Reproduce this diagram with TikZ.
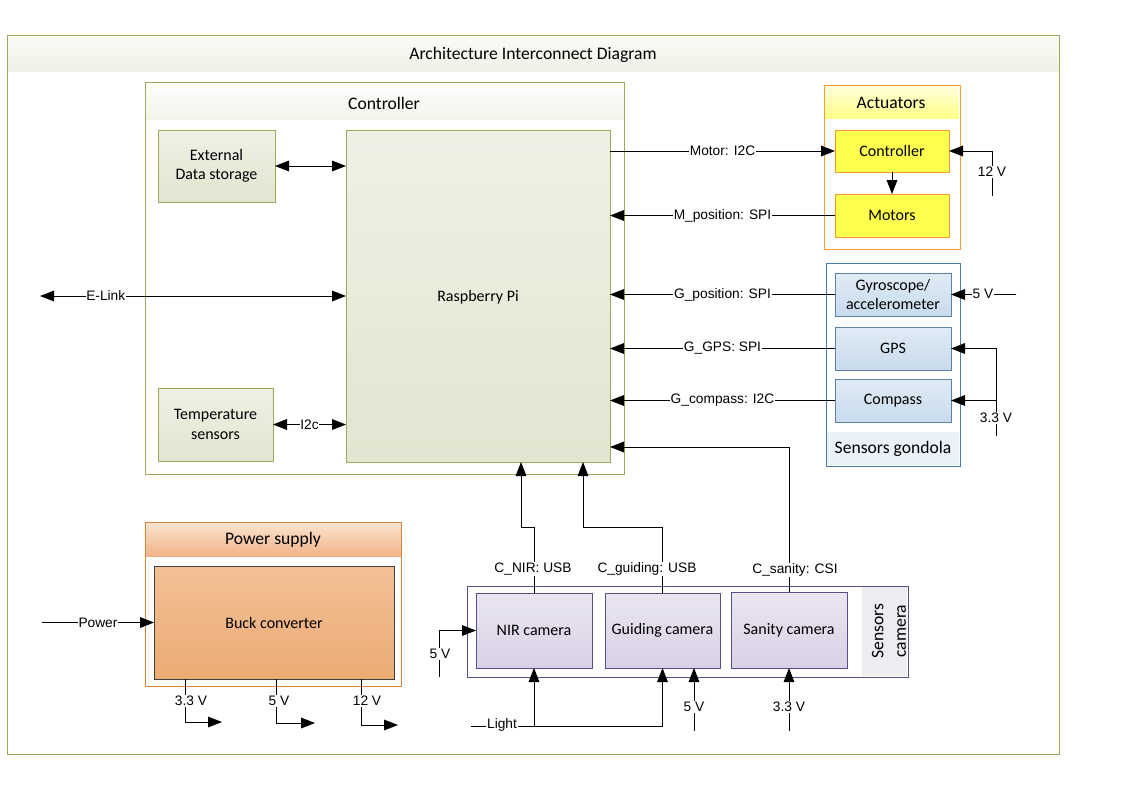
\documentclass[tikz,border=0pt]{standalone}
\usepackage{fontspec}
\setmainfont{Carlito}
\newfontfamily\labfont{Liberation Sans}
\usetikzlibrary{arrows.meta,fit}
\definecolor{cGreen}{HTML}{9AAB5A}
\definecolor{cGreenTop}{HTML}{EEF1E5}
\definecolor{cGreenBot}{HTML}{E0E6D0}
\definecolor{cHeadTop}{HTML}{FAFBF7}
\definecolor{cHeadBot}{HTML}{EEF1E6}
\definecolor{cOrange}{HTML}{FF9933}
\definecolor{cYelTop}{HTML}{FFFFC8}
\definecolor{cYelBot}{HTML}{FFFF88}
\definecolor{cYel}{HTML}{FFFF4D}
\definecolor{cBlue}{HTML}{4A7AAF}
\definecolor{cBlueBox}{HTML}{5C80A8}
\definecolor{cBlueTop}{HTML}{E0EBF5}
\definecolor{cBlueBot}{HTML}{C8DBEC}
\definecolor{cBlueBand}{HTML}{EAF2F9}
\definecolor{cPurple}{HTML}{5B4D8A}
\definecolor{cPurpTop}{HTML}{EAE6F1}
\definecolor{cPurpBot}{HTML}{D8D0E5}
\definecolor{cPurpBand}{HTML}{EEEBF3}
\definecolor{cPS}{HTML}{D9823B}
\definecolor{cPSTop}{HTML}{FBE4D1}
\definecolor{cPSBot}{HTML}{F2B487}
\definecolor{cBuckTop}{HTML}{F2C096}
\definecolor{cBuckBot}{HTML}{ECAB74}
\begin{document}
\begin{tikzpicture}[x=0.75pt,y=-0.75pt,
  every node/.style={text=black},
  ttl/.style={font=\fontsize{13.2}{15}\selectfont, inner sep=0pt},
  txt/.style={font=\fontsize{12}{14.4}\selectfont, align=center, inner sep=0pt},
  boxfit/.style={inner sep=0pt, outer sep=0pt, line width=0.75pt},
  gbox/.style={boxfit, draw=cGreen, top color=cGreenTop, bottom color=cGreenBot},
  ybox/.style={boxfit, draw=cOrange, fill=cYel},
  bbox/.style={boxfit, draw=cBlueBox, top color=cBlueTop, bottom color=cBlueBot},
  pbox/.style={boxfit, draw=cPurple, top color=cPurpTop, bottom color=cPurpBot},
  frame/.style={inner sep=0pt, outer sep=0pt, line width=0.75pt},
  lbl/.style={font=\labfont\fontsize{10.3}{11.5}\selectfont, fill=white, inner sep=0.6pt},
  wire/.style={line width=0.75pt, draw=black},
  arr/.style={wire, -{Triangle[length=10.5pt,width=8pt]}},
  dbl/.style={wire, {Triangle[length=10.5pt,width=8pt]}-{Triangle[length=10.5pt,width=8pt]}}
]
\useasboundingbox (0,0) rectangle (1123,794);
\fill[white] (0,0) rectangle (1123,794);

% outer frame
\fill[top color=cHeadTop, bottom color=cHeadBot] (7,35) rectangle (1059,71);
\node[frame, draw=cGreen, fit={(7,35)(1059,754)}] (outer) {};
\node[ttl] (outertitle) at (533,55) {Architecture Interconnect Diagram};

% controller container
\fill[top color=white, bottom color=cHeadBot!80!white] (145,82) rectangle (624,119);
\node[frame, draw=cGreen, fit={(145,82)(624,474)}] (ctrl) {};
\node[ttl] (ctrltitle) at (384,103) {Controller};

\node[gbox, fit={(158,130)(275,202)}] (ext) {};
\node[txt] (exttext) at (ext.center) {External\\Data storage};
\node[gbox, fit={(346,130)(610,462)}] (rpi) {};
\node[txt] (rpitext) at (478,297) {Raspberry Pi};
\node[gbox, fit={(158,388)(273,461)}] (temp) {};
\node[txt] (temptext) at (temp.center) {Temperature\\sensors};

% actuators
\fill[top color=cYelTop!60!white, bottom color=cYelBot] (824,85) rectangle (958.5,118);
\node[frame, draw=cOrange, fit={(824,85)(960,249)}] (act) {};
\node[ttl] (acttitle) at (891,103) {Actuators};
\node[ybox, fit={(835,130)(949,172)}] (actc) {};
\node[txt] (actctext) at (actc.center) {Controller};
\node[ybox, fit={(835,194)(949,237)}] (mot) {};
\node[txt] (mottext) at (mot.center) {Motors};

% sensors gondola
\fill[cBlueBand] (827,432) rectangle (959,465);
\node[frame, draw=cBlue, fit={(826,263)(960,466)}] (gond) {};
\node[ttl] (gondtitle) at (893,449) {Sensors gondola};
\node[bbox, fit={(835,273)(951,316)}] (gyro) {};
\node[txt] (gyrotext) at (gyro.center) {Gyroscope/\\accelerometer};
\node[bbox, fit={(835,327)(951,370)}] (gps) {};
\node[txt] (gpstext) at (gps.center) {GPS};
\node[bbox, fit={(835,379)(951,422)}] (comp) {};
\node[txt] (comptext) at (comp.center) {Compass};

% sensors camera
\fill[cPurpBand] (862,587) rectangle (907,676);
\node[frame, draw=cPurple, fit={(467,586)(908,677)}] (cams) {};
\node[ttl, rotate=90, align=center, font=\fontsize{13.2}{17}\selectfont] (camstitle) at (889,631) {Sensors\\camera};
\node[pbox, fit={(476,593)(592,668)}] (nir) {};
\node[txt] (nirtext) at (nir.center) {NIR camera};
\node[pbox, fit={(605,593)(720,668)}] (gd) {};
\node[txt] (gdtext) at (gd.center) {Guiding camera};
\node[pbox, fit={(731,592)(847,668)}] (san) {};
\node[txt] (santext) at (san.center) {Sanity camera};

% power supply
\fill[top color=cPSTop, bottom color=cPSBot] (145,522) rectangle (401,556);
\node[frame, draw=cPS, fit={(145,522)(401,686)}] (ps) {};
\node[ttl] (pstitle) at (273,540) {Power supply};
\node[boxfit, draw=black!75, top color=cBuckTop, bottom color=cBuckBot, fit={(154,566)(394,679)}] (buck) {};
\node[txt] (bucktext) at (buck.center) {Buck converter};

% ---- connectors: controller
\draw[dbl] (ext.east) -- (rpi.west |- ext.east);
\draw[dbl] (temp.east) -- (rpi.west |- temp.east) node[lbl, midway] (l_i2c) {I2c};
\coordinate (elink) at (40,296);
\draw[dbl] (elink) -- (rpi.west |- elink) node[lbl, pos=0.215] (l_elink) {E-Link};

% actuators
\draw[arr] (rpi.east |- actc.west) -- (actc.west) node[lbl, midway] (l_motor) {Motor: I2C};
\draw[arr] (mot.west) -- (rpi.east |- mot.west) node[lbl, midway] (l_mpos) {M\_position: SPI};
\draw[arr] (actc.south) -- (mot.north);
\coordinate (v12) at (992,196);
\draw[arr] (v12) |- (actc.east);
\node[lbl] (l_v12) at (992,172) {12 V};

% gondola
\draw[arr] (gyro.west) -- (rpi.east |- gyro.west) node[lbl, midway] (l_gpos) {G\_position: SPI};
\draw[arr] (gps.west) -- (rpi.east |- gps.west) node[lbl, midway] (l_ggps) {G\_GPS: SPI};
\draw[arr] (comp.west) -- (rpi.east |- comp.west) node[lbl, midway] (l_gcomp) {G\_compass: I2C};
\coordinate (v5g) at (1016,294.5);
\draw[arr] (v5g) -- (gyro.east);
\node[lbl] (l_v5g) at (983,294) {5 V};
\coordinate (v33g) at (996,436);
\draw[arr] (v33g) |- (gps.east);
\draw[arr] (v33g |- comp.east) -- (comp.east);
\node[lbl] (l_v33g) at (996,418) {3.3 V};

% cameras to RPi
\coordinate (b1) at (521,527);
\coordinate (b2) at (583,527);
\coordinate (b3) at (789,447);
\draw[arr] (nir.north) |- (b1) -- (b1 |- rpi.south);
\draw[arr] (gd.north) |- (b2) -- (b2 |- rpi.south);
\draw[arr] (san.north) -- (san.north |- b3) -- (rpi.east |- b3);
\node[lbl] (l_cnir) at (533,569) {C\_NIR: USB};
\node[lbl] (l_cgd) at (647,569) {C\_guiding: USB};
\node[lbl] (l_csan) at (795,570) {C\_sanity: CSI};

\coordinate (v5c) at (439,677);
\draw[arr] (v5c) |- (nir.west);
\node[lbl] (l_v5c) at (440,654) {5 V};
\coordinate (light) at (471,726);
\draw[arr] (light) -| (gd.south);
\draw[arr] (light -| nir.south) -- (nir.south);
\node[lbl] (l_light) at (502,725) {Light};
\coordinate (v5d) at (694,731);
\draw[arr] (v5d) -- (v5d |- gd.south);
\node[lbl] (l_v5d) at (694,707) {5 V};
\coordinate (v33s) at (789,731);
\draw[arr] (v33s) -- (san.south);
\node[lbl] (l_v33s) at (789,707) {3.3 V};

% power
\coordinate (pw) at (42,622.5);
\draw[arr] (pw) -- (buck.west);
\node[lbl] (l_pw) at (98,623) {Power};
\coordinate (o1) at (185,679);
\coordinate (o2) at (276,679);
\coordinate (o3) at (361,679);
\coordinate (e1) at (222,722);
\coordinate (e2) at (315,723);
\coordinate (e3) at (398,725);
\draw[arr] (o1) |- (e1);
\draw[arr] (o2) |- (e2);
\draw[arr] (o3) |- (e3);
\node[lbl] (l_o1) at (191,701) {3.3 V};
\node[lbl] (l_o2) at (279,701) {5 V};
\node[lbl] (l_o3) at (367,701) {12 V};
\end{tikzpicture}
\end{document}
